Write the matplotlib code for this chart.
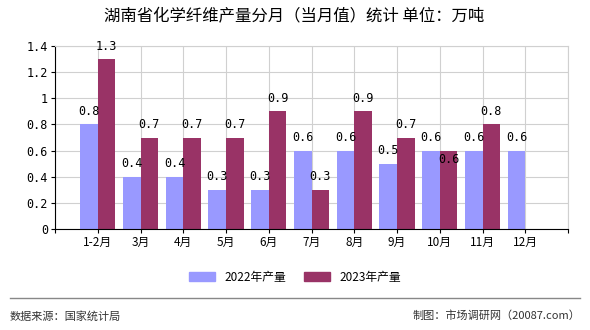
import matplotlib
matplotlib.use("Agg")
import matplotlib.pyplot as plt
import numpy as np

plt.rcParams['font.family'] = ['Noto Sans CJK SC', 'DejaVu Sans']

months = ["1-2月", "3月", "4月", "5月", "6月", "7月", "8月", "9月", "10月", "11月", "12月"]
v2022 = [0.8, 0.4, 0.4, 0.3, 0.3, 0.6, 0.6, 0.5, 0.6, 0.6, 0.6]
v2023 = [1.3, 0.7, 0.7, 0.7, 0.9, 0.3, 0.9, 0.7, 0.6, 0.8, None]
c2022 = "#9999ff"
c2023 = "#993366"

fig = plt.figure(figsize=(5.9, 3.3), dpi=100)
ax = fig.add_axes([55/590, 1-229/330, 513/590, 183/330])

x = np.arange(1, len(months)+1)
w = 0.41
ax.bar(x, v2022, width=-w, align="edge", color=c2022, zorder=2)
x23 = [xi for xi, v in zip(x, v2023) if v is not None]
y23 = [v for v in v2023 if v is not None]
ax.bar(x23, y23, width=w, align="edge", color=c2023, zorder=2)

for xi, v in zip(x, v2022):
    ax.text(xi - w/2, v + 0.05, "%.1f" % v, ha="center", va="bottom", fontsize=8.5, family="DejaVu Sans Mono", zorder=3)
for xi, v, v0 in zip(x23, y23, v2022):
    # the label collides with the 2022 one when both are equal: drawn just under the bar top
    dy = -0.12 if v == v0 else 0.05
    ax.text(xi + w/2, v + dy, "%.1f" % v, ha="center", va="bottom", fontsize=8.5, family="DejaVu Sans Mono", zorder=3)

ax.set_xlim(0, 12)
ax.set_ylim(0, 1.4)
ax.set_xticks(np.arange(0, 13))
ax.set_xticklabels([""] + months + [""], fontsize=8.5)
yt = np.arange(0, 1.41, 0.2)
ax.set_yticks(yt)
ax.set_yticklabels(["%g" % round(t, 1) for t in yt], fontsize=8.5, family="DejaVu Sans Mono")
ax.grid(True, color="#d0d0d0", linewidth=0.8, zorder=0)
ax.set_axisbelow(True)
for s in ["top", "right"]:
    ax.spines[s].set_color("#d0d0d0")
ax.spines["left"].set_color("black")
ax.spines["bottom"].set_color("black")
ax.tick_params(axis="both", length=3, pad=2)

fig.text(294/590, 1-17/330, "湖南省化学纤维产量分月（当月值）统计 单位：万吨", ha="center", va="center", fontsize=11.8)

h1 = plt.Rectangle((0, 0), 1, 1, color=c2022)
h2 = plt.Rectangle((0, 0), 1, 1, color=c2023)
fig.legend([h1, h2], ["2022年产量", "2023年产量"], loc="center", bbox_to_anchor=(295/590, 1-277/330),
           ncol=2, frameon=False, fontsize=8.5, handlelength=2.2, handleheight=0.8, columnspacing=1.5)

fig.add_artist(plt.Line2D([10/590, 580/590], [1-298/330, 1-298/330], color="#888888", linewidth=1))
fig.text(10/590, 1-316/330, "数据来源：国家统计局", ha="left", va="center", fontsize=8, color="#333333")
fig.text(580/590, 1-316/330, "制图：市场调研网（20087.com）", ha="right", va="center", fontsize=8, color="#333333")

fig.savefig("out.png", dpi=100)
